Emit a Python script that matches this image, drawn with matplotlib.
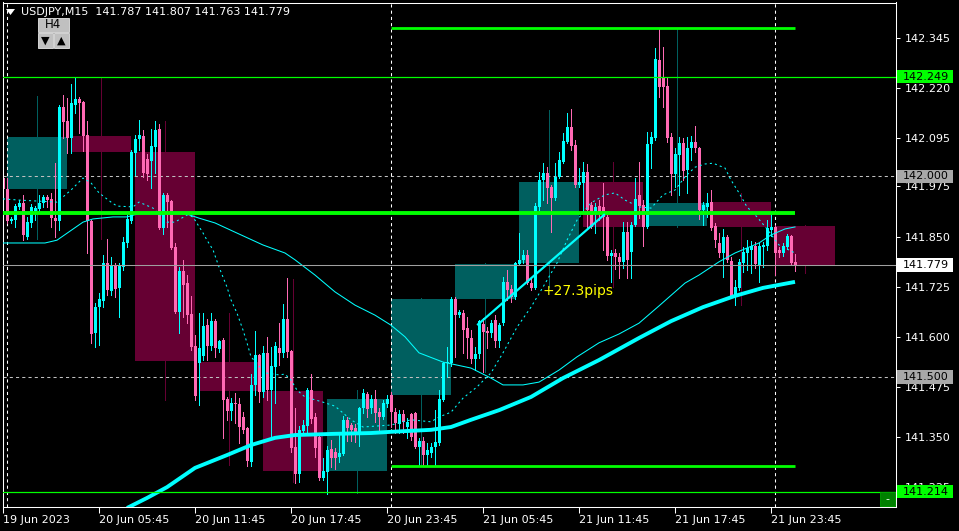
import numpy as np
import matplotlib.pyplot as plt
import matplotlib.transforms as mtransforms
from matplotlib.patches import Rectangle, Polygon

# USDJPY M15 bars, bar 0 = 19 Jun 23:45
opens = [141.996,
         141.969, 141.889, 141.891, 141.924, 141.934, 141.849, 141.884, 141.914, 141.919, 141.934,
         141.949, 141.944, 141.896, 141.889, 142.173, 142.138, 142.096, 142.178, 142.193, 142.186,
         142.103, 141.889, 141.610, 141.674, 141.689, 141.784, 141.714, 141.779, 141.722, 141.774,
         141.834, 141.889, 142.058, 142.093, 142.101, 142.043, 142.038, 142.073, 142.118, 141.871,
         141.954, 141.939, 141.824, 141.662, 141.764, 141.734, 141.657, 141.577, 141.535, 141.552,
         141.630, 141.577, 141.639, 141.570, 141.592, 141.445, 141.415, 141.435, 141.432, 141.400,
         141.373, 141.288, 141.480, 141.555, 141.462, 141.560, 141.467, 141.525, 141.572, 141.560,
         141.644, 141.565, 141.325, 141.258, 141.365, 141.378, 141.467, 141.400, 141.350, 141.248,
         141.263, 141.320, 141.313, 141.300, 141.308, 141.393, 141.380, 141.373, 141.363, 141.422,
         141.457, 141.422, 141.445, 141.412, 141.400, 141.432, 141.455, 141.412, 141.383, 141.407,
         141.375, 141.407, 141.410, 141.325, 141.340, 141.305, 141.310, 141.325, 141.335, 141.442,
         141.535, 141.535, 141.694, 141.654, 141.659, 141.622, 141.597, 141.545, 141.557, 141.632,
         141.614, 141.610, 141.642, 141.590, 141.634, 141.737, 141.719, 141.699, 141.782, 141.792,
         141.804, 141.734, 141.722, 141.924, 141.991, 142.009, 141.974, 141.946, 141.999, 142.036,
         142.086, 142.123, 142.078, 141.979, 141.984, 142.011, 141.929, 141.909, 141.926, 141.924,
         141.899, 141.802, 141.809, 141.799, 141.787, 141.861, 141.812, 141.879, 141.954, 141.929,
         141.874, 142.081, 142.096, 142.290, 142.248, 142.226, 142.098, 142.006, 142.053, 142.083,
         142.016, 142.071, 142.086, 142.071, 141.916, 141.924, 141.936, 141.876, 141.834, 141.809,
         141.849, 141.789, 141.699, 141.722, 141.784, 141.809, 141.817, 141.827, 141.779, 141.824,
         141.827, 141.866, 141.874, 141.817, 141.809, 141.824, 141.851, 141.787]
highs = [141.999,
         141.996, 141.899, 141.931, 141.941, 141.954, 141.899, 141.931, 141.926, 141.954, 141.954,
         141.954, 141.959, 142.033, 142.178, 142.203, 142.196, 142.231, 142.249, 142.198, 142.188,
         142.138, 141.892, 141.684, 141.709, 141.804, 141.844, 141.799, 141.784, 141.784, 141.849,
         141.904, 142.066, 142.103, 142.141, 142.116, 142.056, 142.118, 142.138, 142.131, 141.959,
         141.959, 141.941, 141.834, 141.774, 141.792, 141.754, 141.702, 141.605, 141.659, 141.659,
         141.644, 141.659, 141.644, 141.592, 141.597, 141.450, 141.447, 141.460, 141.447, 141.412,
         141.375, 141.507, 141.615, 141.557, 141.577, 141.600, 141.575, 141.587, 141.634, 141.682,
         141.747, 141.567, 141.422, 141.378, 141.393, 141.472, 141.507, 141.410, 141.355, 141.298,
         141.328, 141.343, 141.323, 141.363, 141.403, 141.400, 141.385, 141.383, 141.425, 141.470,
         141.462, 141.455, 141.467, 141.422, 141.442, 141.455, 141.462, 141.422, 141.417, 141.417,
         141.398, 141.410, 141.412, 141.348, 141.350, 141.335, 141.335, 141.417, 141.467, 141.537,
         141.575, 141.699, 141.699, 141.667, 141.667, 141.649, 141.617, 141.575, 141.642, 141.647,
         141.624, 141.642, 141.654, 141.634, 141.749, 141.767, 141.729, 141.786, 141.859, 141.817,
         141.817, 141.747, 141.934, 142.011, 142.033, 142.023, 141.979, 142.033, 142.061, 142.108,
         142.158, 142.168, 142.091, 142.021, 142.036, 142.031, 141.936, 141.934, 141.941, 141.984,
         141.904, 141.817, 141.819, 141.809, 141.886, 141.886, 141.886, 141.996, 142.036, 141.941,
         142.111, 142.111, 142.320, 142.370, 142.323, 142.245, 142.108, 142.071, 142.098, 142.096,
         142.098, 142.101, 142.126, 142.073, 141.936, 141.959, 141.966, 141.884, 141.859, 141.869,
         141.854, 141.799, 141.742, 141.794, 141.824, 141.841, 141.839, 141.836, 141.834, 141.836,
         141.891, 141.909, 141.879, 141.824, 141.834, 141.856, 141.854, 141.807]
lows = [141.966,
        141.884, 141.884, 141.874, 141.919, 141.841, 141.844, 141.874, 141.891, 141.911, 141.924,
        141.924, 141.874, 141.849, 141.866, 142.096, 142.058, 142.058, 142.158, 142.108, 142.063,
        141.809, 141.585, 141.575, 141.580, 141.674, 141.704, 141.704, 141.699, 141.649, 141.767,
        141.824, 141.884, 142.004, 142.066, 141.999, 141.991, 141.971, 142.009, 141.869, 141.856,
        141.874, 141.819, 141.659, 141.610, 141.649, 141.634, 141.567, 141.442, 141.430, 141.542,
        141.542, 141.567, 141.550, 141.562, 141.348, 141.393, 141.393, 141.385, 141.335, 141.360,
        141.278, 141.278, 141.455, 141.437, 141.450, 141.442, 141.350, 141.435, 141.530, 141.550,
        141.550, 141.313, 141.235, 141.238, 141.355, 141.360, 141.385, 141.300, 141.243, 141.243,
        141.208, 141.275, 141.270, 141.288, 141.305, 141.340, 141.340, 141.338, 141.328, 141.410,
        141.400, 141.410, 141.388, 141.368, 141.395, 141.425, 141.375, 141.360, 141.360, 141.360,
        141.348, 141.343, 141.323, 141.280, 141.280, 141.280, 141.300, 141.280, 141.330, 141.440,
        141.500, 141.527, 141.550, 141.649, 141.560, 141.547, 141.535, 141.517, 141.547, 141.512,
        141.572, 141.600, 141.575, 141.575, 141.629, 141.692, 141.687, 141.694, 141.779, 141.784,
        141.732, 141.717, 141.719, 141.916, 141.941, 141.934, 141.861, 141.941, 141.996, 142.033,
        142.083, 142.066, 141.974, 141.974, 141.909, 141.874, 141.871, 141.859, 141.891, 141.817,
        141.792, 141.737, 141.769, 141.747, 141.772, 141.747, 141.747, 141.876, 141.896, 141.826,
        141.871, 142.021, 142.091, 142.198, 142.173, 142.086, 141.954, 141.974, 141.954, 141.991,
        141.959, 142.041, 142.061, 141.894, 141.879, 141.899, 141.866, 141.824, 141.799, 141.749,
        141.787, 141.697, 141.679, 141.717, 141.762, 141.767, 141.759, 141.772, 141.737, 141.774,
        141.817, 141.851, 141.754, 141.799, 141.802, 141.819, 141.779, 141.763]
closes = [141.969,
          141.889, 141.894, 141.926, 141.934, 141.854, 141.886, 141.924, 141.921, 141.934, 141.949,
          141.941, 141.896, 141.889, 142.173, 142.136, 142.096, 142.183, 142.193, 142.183, 142.101,
          141.889, 141.607, 141.674, 141.694, 141.784, 141.717, 141.777, 141.719, 141.777, 141.836,
          141.894, 142.061, 142.093, 142.103, 142.009, 142.006, 142.076, 142.116, 141.871, 141.954,
          141.936, 141.821, 141.662, 141.764, 141.729, 141.654, 141.575, 141.452, 141.573, 141.627,
          141.577, 141.639, 141.572, 141.590, 141.442, 141.415, 141.435, 141.432, 141.375, 141.368,
          141.290, 141.480, 141.555, 141.462, 141.560, 141.467, 141.527, 141.577, 141.560, 141.644,
          141.562, 141.323, 141.258, 141.368, 141.380, 141.467, 141.395, 141.323, 141.248, 141.265,
          141.318, 141.298, 141.298, 141.310, 141.393, 141.373, 141.368, 141.363, 141.422, 141.460,
          141.420, 141.445, 141.410, 141.400, 141.435, 141.445, 141.412, 141.385, 141.407, 141.388,
          141.388, 141.350, 141.325, 141.340, 141.305, 141.318, 141.325, 141.338, 141.445, 141.535,
          141.537, 141.694, 141.654, 141.662, 141.617, 141.597, 141.545, 141.557, 141.639, 141.612,
          141.610, 141.634, 141.590, 141.629, 141.737, 141.717, 141.699, 141.784, 141.792, 141.804,
          141.734, 141.722, 141.926, 141.991, 142.009, 141.971, 141.946, 141.999, 142.041, 142.088,
          142.123, 142.076, 141.979, 141.986, 142.011, 141.916, 141.874, 141.924, 141.909, 141.899,
          141.802, 141.809, 141.799, 141.787, 141.861, 141.792, 141.879, 141.944, 141.926, 141.874,
          142.081, 142.098, 142.293, 142.223, 142.223, 142.096, 142.006, 142.056, 142.083, 142.014,
          142.071, 142.086, 142.071, 141.916, 141.929, 141.934, 141.871, 141.841, 141.809, 141.849,
          141.792, 141.702, 141.724, 141.787, 141.812, 141.822, 141.827, 141.782, 141.827, 141.829,
          141.871, 141.874, 141.809, 141.809, 141.827, 141.851, 141.784, 141.779]

# H4 candles drawn as boxes, each one spans 16 M15 bars starting at bar 1
h4_open = [141.969, 142.101, 142.061, 141.537, 141.465, 141.265, 141.455, 141.694, 141.784, 141.986, 141.876, 141.936, 141.876]
h4_high = [142.201, 142.248, 142.138, 141.659, 141.744, 141.467, 141.697, 141.784, 142.166, 142.036, 142.370, 141.959, 141.879]
h4_low = [141.844, 141.844, 141.442, 141.280, 141.238, 141.210, 141.280, 141.512, 141.724, 141.724, 141.874, 141.679, 141.759]
h4_close = [142.098, 142.061, 141.540, 141.465, 141.265, 141.445, 141.694, 141.782, 141.986, 141.874, 141.934, 141.874, 141.779]

# moving averages, read at bar positions
slow_x = [31, 36, 41, 48, 56, 62, 68, 73, 83, 92, 97, 107, 112, 117, 124, 132, 140, 149, 159, 167, 175, 183, 190, 198]
slow_ma = [141.173, 141.198, 141.225, 141.273, 141.305, 141.330, 141.348, 141.355, 141.358, 141.360, 141.363, 141.368,
           141.375, 141.393, 141.417, 141.450, 141.497, 141.542, 141.597, 141.639, 141.674, 141.702, 141.722, 141.737]

mid_x = [0, 10.5, 13.5, 20, 22.5, 27.5, 31, 33.5, 37.5, 46, 49, 53, 58, 65, 70.5, 73, 78, 83, 88, 93, 97, 100.5,
         104, 110, 117, 122, 125, 130, 134, 139, 143.5, 149, 154, 159, 164, 170.5, 174, 179, 183, 189, 192, 195.5, 198]
mid_ma = [141.834, 141.834, 141.841, 141.886, 141.894, 141.899, 141.899, 141.906, 141.911, 141.906, 141.896, 141.884,
          141.861, 141.829, 141.809, 141.792, 141.754, 141.712, 141.679, 141.654, 141.629, 141.600, 141.560, 141.537,
          141.522, 141.497, 141.480, 141.480, 141.487, 141.517, 141.550, 141.585, 141.607, 141.634, 141.677, 141.734,
          141.754, 141.787, 141.809, 141.834, 141.854, 141.869, 141.874]

fast_x = [0, 4, 13.5, 17, 20, 22, 24, 27, 28.5, 32.5, 34, 37.5, 41, 43, 46, 47.5, 50, 51, 52.5, 54, 56, 57, 58.5,
          60, 61, 62, 65.5, 69, 70.5, 72, 73.5, 75.5, 80, 83, 85, 87, 90, 97, 102, 107, 109, 112, 115, 118.5, 122,
          125, 128.5, 132, 135, 138.5, 141, 143.5, 147, 150.5, 153, 155.5, 159, 162, 165, 168, 170.5, 173, 175.5,
          177.5, 180.5, 182, 184, 186, 188.5, 191, 194, 198]
fast_ma = [141.944, 141.941, 141.936, 141.966, 141.996, 141.984, 141.959, 141.936, 141.926, 141.924, 141.936, 141.921,
           141.886, 141.886, 141.904, 141.899, 141.859, 141.841, 141.817, 141.774, 141.724, 141.692, 141.659, 141.617,
           141.585, 141.550, 141.510, 141.505, 141.507, 141.492, 141.467, 141.450, 141.437, 141.427, 141.410, 141.393,
           141.375, 141.380, 141.393, 141.388, 141.400, 141.412, 141.447, 141.475, 141.510, 141.560, 141.624, 141.674,
           141.724, 141.784, 141.841, 141.891, 141.934, 141.954, 141.959, 141.941, 141.924, 141.921, 141.954, 141.966,
           141.999, 142.023, 142.031, 142.033, 142.021, 141.991, 141.959, 141.924, 141.899, 141.869, 141.829, 141.809]

# horizontal objects: (price, first bar, last bar, width)
green_levels = [(142.371, 97, 198, 2.0), (141.910, 0, 198, 2.8), (141.279, 97, 198, 2.0)]
full_levels = [142.249, 141.214]
current_price = 141.779
trend_x = [118.75, 150.25]
trend_y = [141.631, 141.904]

price_ticks = [142.345, 142.220, 142.095, 141.975, 141.850, 141.725, 141.600, 141.475, 141.350, 141.225]
time_ticks = [0, 24, 48, 72, 96, 120, 144, 168, 192]
time_labels = ['19 Jun 2023', '20 Jun 05:45', '20 Jun 11:45', '20 Jun 17:45', '20 Jun 23:45',
               '21 Jun 05:45', '21 Jun 11:45', '21 Jun 17:45', '21 Jun 23:45']
day_lines = [1, 97, 193]

UP = '#00ffff'
DOWN = '#ff69b4'
W, H = 959, 531


def fx(px):
    return px / W


def fy(py):
    return 1 - py / H


fig = plt.figure(figsize=(W / 100, H / 100), dpi=100, facecolor='black')
ax = fig.add_axes([fx(3), fy(507), 893 / W, 504.5 / H])
ax.set_facecolor('black')

o = np.array(opens)
hi = np.array(highs)
lo = np.array(lows)
c = np.array(closes)
x = np.arange(len(o))
cols = [UP if cc >= oo else DOWN for oo, cc in zip(o, c)]

# H4 boxes
for j in range(len(h4_open)):
    k0 = 1 + 16 * j
    up = h4_close[j] >= h4_open[j]
    face = '#005f5f' if up else '#660033'
    ax.vlines(k0 + 7.5, h4_low[j], h4_high[j], color=face, linewidth=0.6, zorder=0.8, antialiased=False)
    ax.add_patch(Rectangle((k0, min(h4_open[j], h4_close[j])), 15, abs(h4_close[j] - h4_open[j]),
                           facecolor=face, edgecolor='none', zorder=1))

# grid
for p in [142.0, 141.5]:
    ax.axhline(p, color='#c0c0c0', linewidth=0.75, linestyle=(0, (3, 3)), zorder=1.5)
for d in day_lines:
    ax.axvline(d, color='white', linewidth=0.75, linestyle=(0, (3, 3)), zorder=1.5)

# M15 candles
ax.vlines(x, lo, hi, colors=cols, linewidth=0.6, zorder=2, antialiased=False)
ax.bar(x, np.maximum(np.abs(c - o), 0.0025), bottom=np.minimum(o, c), width=0.75,
       color=cols, linewidth=0, zorder=2.1)

# moving averages
ax.plot(slow_x, slow_ma, color=UP, linewidth=2.8, zorder=3, solid_capstyle='butt')
ax.plot(mid_x, mid_ma, color=UP, linewidth=0.75, zorder=3)
ax.plot(fast_x, fast_ma, color=UP, linewidth=0.75, linestyle=(0, (2, 3)), zorder=3)

# lines and objects
for p, k1, k2, lw in green_levels:
    ax.hlines(p, k1, k2, color='#00ff00', linewidth=lw, zorder=3.5)
for p in full_levels:
    ax.axhline(p, color='#00ff00', linewidth=0.9, zorder=3.5)
ax.axhline(current_price, color='#a0a0a0', linewidth=0.75, zorder=3.5)
ax.plot(trend_x, trend_y, color=UP, linewidth=1.6, zorder=3.6)
ax.text(135, 141.714, '+27.3pips', color='#ffff00', fontsize=10, va='center', ha='left', zorder=4)

ax.set_xlim(0, 223.25)
ax.set_ylim(141.1755, 142.4338)

ax.yaxis.tick_right()
ax.set_yticks(price_ticks)
ax.set_yticklabels([f'{p:.3f}' for p in price_ticks])
ax.tick_params(axis='y', colors='white', length=3, width=0.75, pad=3, labelsize=8)
ax.set_xticks(time_ticks)
ax.set_xticklabels(time_labels)
ax.tick_params(axis='x', colors='white', length=4, width=0.75, pad=1.5, labelsize=8)
for lbl in ax.get_xticklabels():
    lbl.set_horizontalalignment('left')
for s in ax.spines.values():
    s.set_color('white')
    s.set_linewidth(0.75)

# price tags on the right axis
tag_tr = mtransforms.blended_transform_factory(fig.transFigure, ax.transData)
tags = [(142.249, '#00ff00'), (142.000, '#a8a8a8'), (current_price, '#ffffff'),
        (141.500, '#a8a8a8'), (141.214, '#00ff00')]
for p, face in tags:
    ax.add_patch(Rectangle((fx(897), p - 0.0165), 56 / W, 0.033, transform=tag_tr,
                           facecolor=face, edgecolor='none', clip_on=False, zorder=10))
    ax.text(fx(903), p, f'{p:.3f}', transform=tag_tr, color='black', fontsize=8,
            va='center', ha='left', clip_on=False, zorder=11)

# header and small widgets
fig.patches.append(Polygon([(fx(6), fy(9)), (fx(15), fy(9)), (fx(10.5), fy(15))],
                           closed=True, facecolor='white', edgecolor='none', transform=fig.transFigure))
fig.text(fx(21), fy(12), 'USDJPY,M15  141.787 141.807 141.763 141.779', color='white',
         fontsize=8, va='center', ha='left')

for (x0, y0, w, h) in [(38, 18, 31, 14), (38, 33, 15, 15), (54, 33, 15, 15)]:
    fig.patches.append(Rectangle((fx(x0), fy(y0 + h)), w / W, h / H, facecolor='#c0c0c0',
                                 edgecolor='#e8e8e8', linewidth=0.6, transform=fig.transFigure))
fig.text(fx(53.5), fy(25), 'H4', color='black', fontsize=8.5, ha='center', va='center')
fig.text(fx(45.5), fy(41), '▼', color='black', fontsize=8, ha='center', va='center')
fig.text(fx(61.5), fy(41), '▲', color='black', fontsize=8, ha='center', va='center')

fig.patches.append(Rectangle((fx(880), fy(506)), 15 / W, 14 / H, facecolor='#008000',
                             edgecolor='#00a000', linewidth=0.6, transform=fig.transFigure))
fig.text(fx(887.5), fy(499), '-', color='white', fontsize=8, ha='center', va='center')

fig.savefig('out.png', dpi=100, facecolor='black')
